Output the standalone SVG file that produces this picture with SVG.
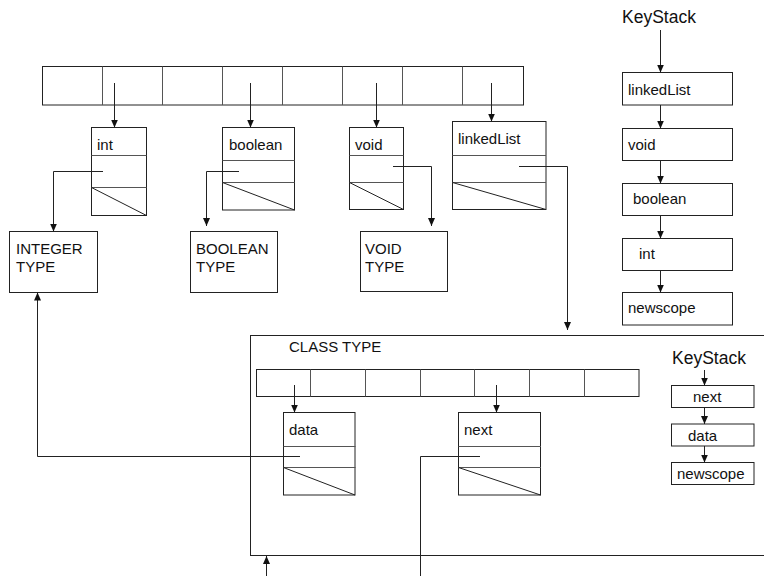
<svg xmlns="http://www.w3.org/2000/svg" width="764" height="576" viewBox="0 0 764 576">
  <style>
    .box { fill: #fff; stroke: #222; stroke-width: 1; }
    .ln { fill: none; stroke: #222; stroke-width: 1; }
    .sep { fill: none; stroke: #555; stroke-width: 1; }
    .wire { fill: none; stroke: #222; stroke-width: 1; marker-end: url(#arrow); }
    .lbl { font-family: "Liberation Sans", Arial, sans-serif; font-size: 15px; fill: #111; }
    .head { font-family: "Liberation Sans", Arial, sans-serif; font-size: 17.5px; fill: #111; }
  </style>
  <defs>
    <marker id="arrow" markerUnits="userSpaceOnUse" markerWidth="9" markerHeight="8" refX="8" refY="3.5" orient="auto">
      <path d="M0,0 L8,3.5 L0,7 z" fill="#111"/>
    </marker>
  </defs>
  <rect width="764" height="576" fill="#fff"/>

  <!-- hash table: 8 buckets -->
  <g id="table">
    <rect class="box" x="42.5" y="66.5" width="481" height="38.5"/>
    <path class="sep" d="M102.5,66.5V105 M162.5,66.5V105 M222.5,66.5V105 M282.5,66.5V105 M342.5,66.5V105 M402.5,66.5V105 M462.5,66.5V105"/>
  </g>

  <!-- symbol entries -->
  <g id="entry-int">
    <rect class="box" x="91.5" y="127.5" width="55" height="88"/>
    <path class="sep" d="M91.5,155.5H146.5 M91.5,187.5H146.5"/>
    <path class="ln" d="M91.5,187.5L146.5,215.5"/>
    <text class="lbl" x="97" y="149.5">int</text>
  </g>
  <g id="entry-boolean">
    <rect class="box" x="222.5" y="127.5" width="72" height="82.5"/>
    <path class="sep" d="M222.5,160.5H294.5 M222.5,182.5H294.5"/>
    <path class="ln" d="M222.5,182.5L294.5,210"/>
    <text class="lbl" x="229" y="149.5">boolean</text>
  </g>
  <g id="entry-void">
    <rect class="box" x="349.5" y="127.5" width="54" height="82"/>
    <path class="sep" d="M349.5,155.5H403.5 M349.5,182.5H403.5"/>
    <path class="ln" d="M349.5,182.5L403.5,209.5"/>
    <text class="lbl" x="355" y="149.5">void</text>
  </g>
  <g id="entry-linkedList">
    <rect class="box" x="452.5" y="121.5" width="93.5" height="88"/>
    <path class="sep" d="M452.5,155.5H546 M452.5,182.5H546"/>
    <path class="ln" d="M452.5,182.5L546,209.5"/>
    <text class="lbl" x="458" y="144">linkedList</text>
  </g>

  <!-- type descriptors -->
  <g id="type-integer">
    <rect class="box" x="9.5" y="231.5" width="88" height="61"/>
    <text class="lbl" x="16" y="254">INTEGER</text>
    <text class="lbl" x="16" y="271.5">TYPE</text>
  </g>
  <g id="type-boolean">
    <rect class="box" x="190.5" y="231.5" width="87" height="61"/>
    <text class="lbl" x="196" y="254">BOOLEAN</text>
    <text class="lbl" x="196" y="271.5">TYPE</text>
  </g>
  <g id="type-void">
    <rect class="box" x="360.5" y="231.5" width="87" height="60"/>
    <text class="lbl" x="365" y="254">VOID</text>
    <text class="lbl" x="365" y="271.5">TYPE</text>
  </g>

  <!-- outer key stack -->
  <g id="keystack">
    <text class="head" x="622" y="23">KeyStack</text>
    <g id="ks-linkedList"><rect class="box" x="622.5" y="72.5" width="110" height="32.5"/><text class="lbl" x="628" y="95">linkedList</text></g>
    <g id="ks-void"><rect class="box" x="622.5" y="128.5" width="110" height="32"/><text class="lbl" x="628" y="150">void</text></g>
    <g id="ks-boolean"><rect class="box" x="622.5" y="183.5" width="110" height="32"/><text class="lbl" x="633" y="204">boolean</text></g>
    <g id="ks-int"><rect class="box" x="622.5" y="238.5" width="110" height="32"/><text class="lbl" x="639" y="259">int</text></g>
    <g id="ks-newscope"><rect class="box" x="622.5" y="292.5" width="110" height="32.5"/><text class="lbl" x="628" y="313">newscope</text></g>
  </g>

  <!-- class type with its own scope -->
  <g id="class-type">
    <rect class="box" x="250.5" y="335.5" width="540" height="220"/>
    <text class="lbl" x="289" y="352">CLASS TYPE</text>
    <g id="class-table">
      <rect class="box" x="256.5" y="369.5" width="382.5" height="27"/>
      <path class="sep" d="M310.5,369.5V396.5 M365.5,369.5V396.5 M420.5,369.5V396.5 M474.5,369.5V396.5 M529.5,369.5V396.5 M584.5,369.5V396.5"/>
    </g>
    <g id="entry-data">
      <rect class="box" x="283.5" y="412.5" width="71.5" height="82.5"/>
      <path class="sep" d="M283.5,446.5H355.5 M283.5,467.5H355.5"/>
      <path class="ln" d="M283.5,467.5L355,495"/>
      <text class="lbl" x="289" y="435">data</text>
    </g>
    <g id="entry-next">
      <rect class="box" x="458.5" y="412.5" width="82" height="82.5"/>
      <path class="sep" d="M458.5,446.5H541 M458.5,467.5H541"/>
      <path class="ln" d="M458.5,467.5L540.5,495"/>
      <text class="lbl" x="464" y="435">next</text>
    </g>
    <g id="class-keystack">
      <text class="head" x="672" y="364">KeyStack</text>
      <g id="cks-next"><rect class="box" x="671.5" y="385.5" width="82.5" height="22"/><text class="lbl" x="693" y="401.5">next</text></g>
      <g id="cks-data"><rect class="box" x="671.5" y="424" width="82.5" height="22"/><text class="lbl" x="688" y="440.5">data</text></g>
      <g id="cks-newscope"><rect class="box" x="671.5" y="462.5" width="82.5" height="22"/><text class="lbl" x="677" y="479">newscope</text></g>
    </g>
  </g>

  <!-- pointers -->
  <g id="connectors">
    <path class="wire" d="M114.5,83V127.5"/>
    <path class="wire" d="M250.5,83V127.5"/>
    <path class="wire" d="M376.5,83V127.5"/>
    <path class="wire" d="M491.5,83V121.5"/>
    <path class="wire" d="M103,171.5H53.5V231.5"/>
    <path class="wire" d="M239,171.5H206.5V226"/>
    <path class="wire" d="M393,166.5H431.5V226"/>
    <path class="wire" d="M519,166.5H567.5V330"/>
    <path class="wire" d="M660.5,30V72.5"/>
    <path class="wire" d="M660.5,105V128.5"/>
    <path class="wire" d="M660.5,160.5V183.5"/>
    <path class="wire" d="M660.5,215.5V238.5"/>
    <path class="wire" d="M660.5,270.5V292.5"/>
    <path class="wire" d="M294.5,385V412.5"/>
    <path class="wire" d="M496.5,385V412.5"/>
    <path class="wire" d="M300,456.5H37.5V292.5"/>
    <path class="ln" d="M480,456.5H420.5V576"/>
    <path class="wire" d="M266.5,576V556"/>
    <path class="wire" d="M704.5,370V385.5"/>
    <path class="wire" d="M704.5,407.5V424"/>
    <path class="wire" d="M704.5,446V462.5"/>
  </g>
</svg>
